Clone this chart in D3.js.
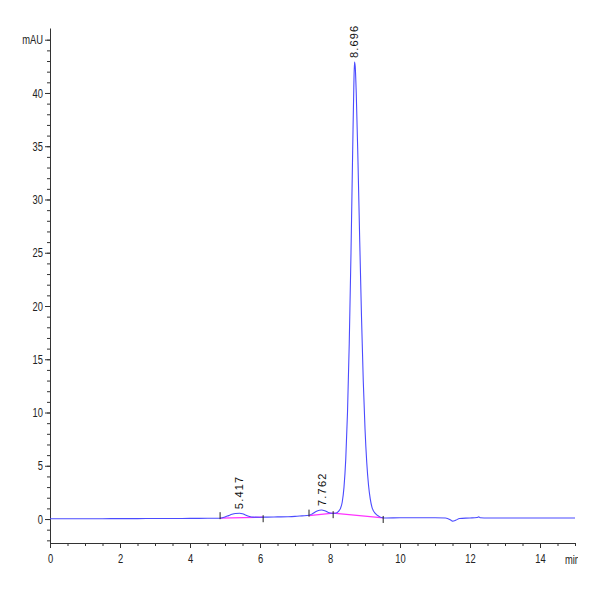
<!DOCTYPE html>
<html>
<head>
<meta charset="utf-8">
<script src="https://cdn.jsdelivr.net/npm/d3@7"></script>
<style>
  body { margin: 0; background: #fff; }
  .axis text { font-family: "Liberation Sans", Arial, sans-serif; font-size: 13px; fill: #222; }
  .axis path, .axis line { stroke: #333; }
  .peak-label { font-family: "Liberation Sans", Arial, sans-serif; font-size: 11px; letter-spacing: 1.2px; fill: #111; }
</style>
</head>
<body>
<svg id="chart" width="600" height="600"></svg>
<script>
'use strict';

// detector signal (min, mAU)
var signalTime = [0, 0.5, 1, 1.5, 2, 2.5, 3, 3.5, 4, 4.5, 4.85, 5.0, 5.1, 5.2, 5.3, 5.42, 5.5, 5.6, 5.7, 5.8,
  6.0, 6.2, 6.5, 6.8, 7.0, 7.2, 7.4, 7.5, 7.6, 7.7, 7.76, 7.85, 7.95, 8.05, 8.15, 8.25, 8.3, 8.35, 8.4, 8.45,
  8.5, 8.55, 8.6, 8.65, 8.68, 8.7, 8.72, 8.75, 8.8, 8.85, 8.9, 8.95, 9.0, 9.05, 9.1, 9.15, 9.2, 9.3, 9.4, 9.5,
  9.6, 10, 10.5, 11, 11.3, 11.45, 11.5, 11.6, 11.7, 12, 12.2, 12.25, 12.3, 12.5, 13, 14, 15];
var signalMAU = [0.02, 0.02, 0.03, 0.03, 0.04, 0.04, 0.05, 0.05, 0.06, 0.07, 0.08, 0.2, 0.32, 0.44, 0.52, 0.55, 0.5, 0.35, 0.24, 0.18,
  0.17, 0.18, 0.2, 0.22, 0.25, 0.3, 0.35, 0.5, 0.7, 0.82, 0.85, 0.78, 0.62, 0.55, 0.55, 0.75, 1.0, 1.6, 3.0, 5.6,
  10.0, 16.5, 25.0, 35.0, 40.5, 42.9, 42.5, 40.0, 33.5, 26.0, 19.0, 13.0, 8.5, 5.3, 3.2, 1.9, 1.1, 0.5, 0.25, 0.12,
  0.1, 0.12, 0.12, 0.12, 0.1, -0.1, -0.2, -0.1, 0.05, 0.1, 0.15, 0.2, 0.12, 0.1, 0.1, 0.1, 0.1];

// integration baselines: start/end time and level
var baseStart = [4.86, 7.4, 8.09];
var baseStartMAU = [0.08, 0.32, 0.55];
var baseEnd = [6.09, 8.09, 9.52];
var baseEndMAU = [0.17, 0.55, 0.1];

// peak start/end marks (1 = above trace, -1 = below)
var markTime = [4.86, 6.09, 7.4, 8.09, 9.52];
var markMAU = [0.08, 0.17, 0.32, 0.55, 0.1];
var markSide = [1, -1, 1, -1, -1];

var peakRT = ['5.417', '7.762', '8.696'];
var peakMAU = [0.55, 0.85, 42.9];

var xTicks = [0, 2, 4, 6, 8, 10, 12, 14];
var yTicks = [0, 5, 10, 15, 20, 25, 30, 35, 40, 45];

var NARROW = 0.72;  // the original uses a condensed face

var svg = d3.select('#chart');

var x = d3.scaleLinear().domain([0, 15]).range([50, 575]);
var y = d3.scaleLinear().domain([-2.25, 46.1]).range([543, 28]);

function condense(sel) {
  sel.selectAll('.tick text').each(function() {
    var t = d3.select(this);
    t.attr('x', (+t.attr('x') || 0) / NARROW)
      .attr('transform', 'scale(' + NARROW + ',1)');
  });
}

// minor ticks
svg.append('g').attr('class', 'axis')
  .attr('transform', 'translate(0,543)')
  .call(d3.axisBottom(x).tickValues(d3.range(0, 15.01, 0.5)).tickSize(3).tickFormat(''))
  .select('.domain').remove();
svg.append('g').attr('class', 'axis')
  .attr('transform', 'translate(50,0)')
  .call(d3.axisLeft(y).tickValues(d3.range(-2, 46, 1)).tickSize(3).tickFormat(''))
  .select('.domain').remove();

// major ticks
svg.append('g').attr('class', 'axis')
  .attr('transform', 'translate(0,543)')
  .call(d3.axisBottom(x).tickValues(xTicks).tickSize(5).tickSizeOuter(0).tickPadding(6))
  .call(condense);
svg.append('g').attr('class', 'axis')
  .attr('transform', 'translate(50,0)')
  .call(d3.axisLeft(y).tickValues(yTicks).tickSize(5).tickSizeOuter(0).tickPadding(2)
    .tickFormat(function(d) { return d === 45 ? 'mAU' : d; }))
  .call(condense);

// unit label, cut at the picture edge like the original
svg.append('clipPath').attr('id', 'unitClip')
  .append('rect').attr('x', 540).attr('y', 540).attr('width', 38).attr('height', 40);
svg.append('g').attr('clip-path', 'url(#unitClip)')
  .append('text').attr('class', 'axis')
  .attr('transform', 'translate(565,564) scale(' + NARROW + ',1)')
  .style('font-family', '"Liberation Sans", Arial, sans-serif')
  .style('font-size', '13px').style('fill', '#222')
  .text('min');

// baselines
svg.append('g').selectAll('line')
  .data(baseStart)
  .enter().append('line')
  .attr('x1', function(d) { return x(d); })
  .attr('y1', function(d, i) { return y(baseStartMAU[i]); })
  .attr('x2', function(d, i) { return x(baseEnd[i]); })
  .attr('y2', function(d, i) { return y(baseEndMAU[i]); })
  .attr('stroke', '#ff33ff')
  .attr('stroke-width', 1.3);

// trace
var line = d3.line()
  .x(function(d) { return x(d); })
  .y(function(d, i) { return y(signalMAU[i]); })
  .curve(d3.curveMonotoneX);

svg.append('path')
  .attr('d', line(signalTime))
  .attr('fill', 'none')
  .attr('stroke', '#4b4bff')
  .attr('stroke-width', 1.1);

// start/end marks
svg.append('g').selectAll('line')
  .data(markTime)
  .enter().append('line')
  .attr('x1', function(d) { return x(d); })
  .attr('x2', function(d) { return x(d); })
  .attr('y1', function(d, i) { return y(markMAU[i]) + (markSide[i] > 0 ? 1 : -2); })
  .attr('y2', function(d, i) { return y(markMAU[i]) + (markSide[i] > 0 ? -6 : 5); })
  .attr('stroke', '#222')
  .attr('stroke-width', 1);

// retention time labels
svg.append('g').selectAll('text')
  .data(peakRT)
  .enter().append('text')
  .attr('class', 'peak-label')
  .attr('transform', function(d, i) {
    return 'translate(' + x(+d) + ',' + (y(peakMAU[i]) - 4) + ') rotate(-90)';
  })
  .attr('dy', '0.35em')
  .text(function(d) { return d; });
</script>
</body>
</html>
